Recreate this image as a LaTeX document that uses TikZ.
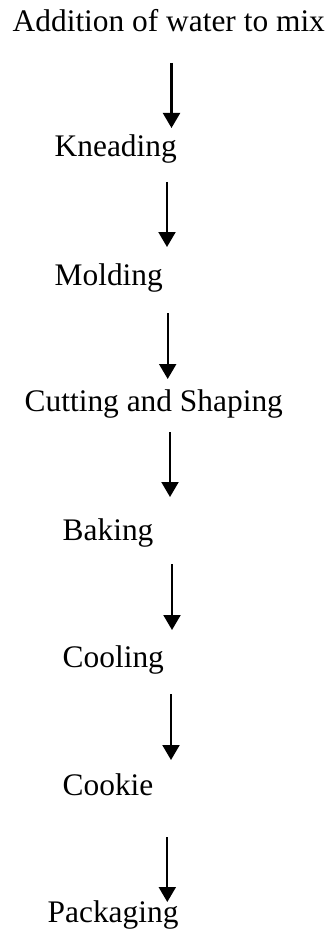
\documentclass[tikz,border=0pt]{standalone}
\usepackage{fontspec}
\setmainfont{Liberation Serif}
\usetikzlibrary{arrows.meta, positioning}

\begin{document}
\begin{tikzpicture}[x=1pt, y=-1pt,
  stage/.style={anchor=base west, inner sep=0pt, font=\fontsize{31.4}{36}\selectfont},
  flow/.style={-{Triangle[width=17pt, length=15pt]}, line width=2.1pt, draw=black}]
  \useasboundingbox (0,0) rectangle (333,933);
  \node[stage] (water) at (12.5,32) {Addition of water to mix};
  \node[stage] (knead) at (54.5,157) {Kneading};
  \node[stage] (mold) at (54.5,285) {Molding};
  \node[stage] (cut) at (24.5,411.5) {Cutting and Shaping};
  \node[stage] (bake) at (62.5,540) {Baking};
  \node[stage] (cool) at (62.5,667) {Cooling};
  \node[stage] (cookie) at (62.5,795) {Cookie};
  \node[stage] (pack) at (47.5,922) {Packaging};
  % arrow ends
  \coordinate (a1) at (171.5,63);  \coordinate (b1) at (171.5,128);
  \coordinate (a2) at (167,182);   \coordinate (b2) at (167,247);
  \coordinate (a3) at (167.7,313); \coordinate (b3) at (167.7,379);
  \coordinate (a4) at (170,432);   \coordinate (b4) at (170,497);
  \coordinate (a5) at (172,564);   \coordinate (b5) at (172,630);
  \coordinate (a6) at (171,694);   \coordinate (b6) at (171,760);
  \coordinate (a7) at (167.3,837); \coordinate (b7) at (167.3,902);
  \foreach \i in {1,...,7}
    \draw[flow] (a\i) -- (b\i);
\end{tikzpicture}
\end{document}
